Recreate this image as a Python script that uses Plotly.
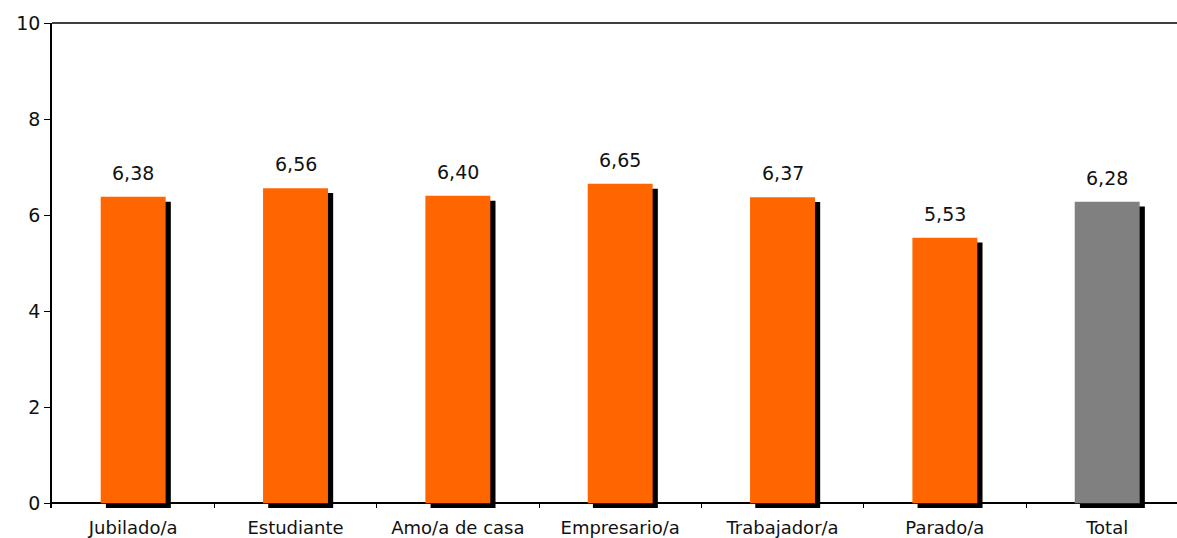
import plotly.graph_objects as go

categories = ["Jubilado/a", "Estudiante", "Amo/a de casa", "Empresario/a",
              "Trabajador/a", "Parado/a", "Total"]
values = [6.38, 6.56, 6.40, 6.65, 6.37, 5.53, 6.28]
bar_colors = ["#FF6600"] * 6 + ["#808080"]
y_ticks = [0, 2, 4, 6, 8, 10]

FONT = "DejaVu Sans, Verdana, sans-serif"
shadow_dy = 0.1      # vertical shadow shift (data units)
bar_w = 0.40
shadow_dx = 0.032

fig = go.Figure()
# shadow bars
fig.add_trace(go.Bar(
    x=categories, y=values, base=[-shadow_dy] * len(values),
    width=bar_w, offset=-bar_w / 2 + shadow_dx,
    marker=dict(color="#000000", line=dict(width=0)),
    hoverinfo="skip", showlegend=False))
# main bars
fig.add_trace(go.Bar(
    x=categories, y=values,
    width=bar_w, offset=-bar_w / 2,
    marker=dict(color=bar_colors, line=dict(width=0)),
    showlegend=False))

for c, v in zip(categories, values):
    fig.add_annotation(x=c, y=v, text=f"{v:.2f}".replace(".", ","),
                       showarrow=False, yanchor="bottom", yshift=11,
                       font=dict(family=FONT, size=19, color="#111111"))

fig.add_shape(type="line", xref="paper", yref="paper", x0=0, x1=1, y0=1, y1=1,
              line=dict(color="#000000", width=1.5))

fig.update_layout(
    width=1177, height=538,
    margin=dict(l=52, r=0, t=23, b=30),
    plot_bgcolor="white", paper_bgcolor="white",
    barmode="overlay",
    font=dict(family=FONT, color="#111111"),
    xaxis=dict(type="category", range=[-0.5, 6.43], showline=False,
               showgrid=False, zeroline=False, automargin=False,
               ticks="inside", tickson="boundaries", ticklen=5,
               tickcolor="#000000", tickwidth=1, ticklabelstandoff=7,
               tickfont=dict(family=FONT, size=18, color="#111111")),
    yaxis=dict(range=[-shadow_dy, 10], tickvals=y_ticks, showgrid=False,
               automargin=False,
               showline=True, linecolor="#000000", linewidth=1.5,
               zeroline=True, zerolinecolor="#000000", zerolinewidth=1.5,
               ticks="outside", ticklen=6, tickcolor="#000000",
               tickfont=dict(family=FONT, size=19, color="#111111")),
)

fig.write_html(
    "out.html",
    config={"displayModeBar": False},
    post_script="document.documentElement.style.overflow='hidden';"
                "document.body.style.margin='0';"
                "document.body.style.overflow='hidden';")
